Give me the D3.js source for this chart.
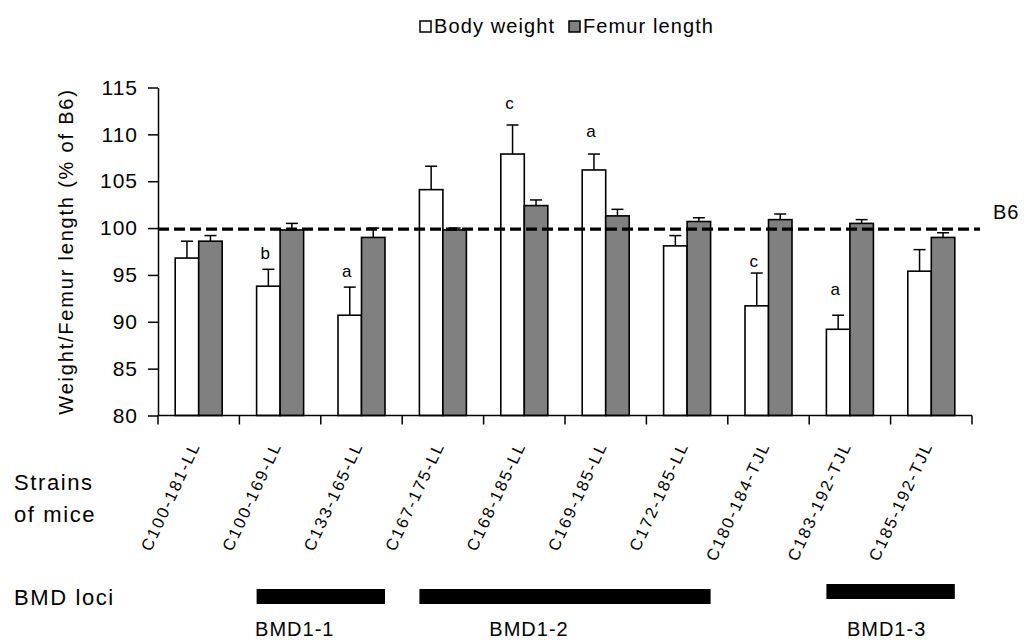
<!DOCTYPE html>
<html>
<head>
<meta charset="utf-8">
<script src="https://cdn.jsdelivr.net/npm/d3@7"></script>
<style>
  html, body { margin: 0; padding: 0; background: #fff; }
  svg { display: block; font-family: "Liberation Sans", Arial, sans-serif; }
</style>
</head>
<body>
<svg id="chart" width="1024" height="640"></svg>
<script>
// Congenic strains and their relative body weight / femur length (% of B6)
const strains = ["C100-181-LL", "C100-169-LL", "C133-165-LL", "C167-175-LL", "C168-185-LL",
                 "C169-185-LL", "C172-185-LL", "C180-184-TJL", "C183-192-TJL", "C185-192-TJL"];
const bodyWeight    = [96.8, 93.8, 90.7, 104.1, 107.9, 106.2, 98.1, 91.7, 89.2, 95.4];
const bodyWeightErr = [1.8, 1.8, 3.0, 2.5, 3.1, 1.7, 1.1, 3.5, 1.5, 2.3];
const femurLength    = [98.6, 99.8, 99.0, 99.8, 102.4, 101.3, 100.7, 100.9, 100.5, 99.0];
const femurLengthErr = [0.6, 0.7, 1.0, 0.2, 0.6, 0.7, 0.4, 0.6, 0.4, 0.5];
// significance letters over the body-weight bars, and the level they sit at
const sigLetters = ["", "b", "a", "", "c", "a", "", "c", "a", ""];
const sigLevel   = [null, 96.7, 94.8, null, 112.7, 109.7, null, 95.8, 92.9, null];
const yTicks = [80, 85, 90, 95, 100, 105, 110, 115];
const seriesNames = ["Body weight", "Femur length"];
const b6Level = 100;
// BMD loci and the strains each one covers
const lociNames = ["BMD1-1", "BMD1-2", "BMD1-3"];
const lociFrom  = ["C100-169-LL", "C167-175-LL", "C183-192-TJL"];
const lociTo    = ["C133-165-LL", "C172-185-LL", "C185-192-TJL"];

const svg = d3.select("#chart");
const plot = { left: 158, right: 972, top: 87.5, bottom: 415.5 };
const fills = ["#ffffff", "#808080"];

const x = d3.scaleBand().domain(strains).range([plot.left, plot.right]).padding(0);
const y = d3.scaleLinear().domain([80, 115]).range([plot.bottom, plot.top]);
const barW = 23.5;
const xs = d3.scaleBand().domain(seriesNames).range([-barW, barW]).padding(0);
const center = s => x(s) + x.bandwidth() / 2;

const rows = strains.map((s, i) => ({
  strain: s,
  vals: [
    { key: seriesNames[0], v: bodyWeight[i], e: bodyWeightErr[i], fill: fills[0] },
    { key: seriesNames[1], v: femurLength[i], e: femurLengthErr[i], fill: fills[1] }
  ]
}));

// bars with upper error bars
const g = svg.append("g");
const groups = g.selectAll("g.grp").data(rows).join("g").attr("class", "grp")
  .attr("transform", d => `translate(${center(d.strain)},0)`);

groups.selectAll("rect").data(d => d.vals).join("rect")
  .attr("x", d => xs(d.key))
  .attr("y", d => y(d.v))
  .attr("width", xs.bandwidth())
  .attr("height", d => y(80) - y(d.v))
  .attr("fill", d => d.fill)
  .attr("stroke", "#000")
  .attr("stroke-width", 1.6);

const err = groups.selectAll("g.err").data(d => d.vals).join("g").attr("class", "err")
  .attr("transform", d => `translate(${xs(d.key) + xs.bandwidth() / 2},0)`);
err.append("line").attr("x1", 0).attr("x2", 0)
  .attr("y1", d => y(d.v)).attr("y2", d => y(d.v + d.e))
  .attr("stroke", "#000").attr("stroke-width", 1.5);
err.append("line").attr("x1", -6).attr("x2", 6)
  .attr("y1", d => y(d.v + d.e)).attr("y2", d => y(d.v + d.e))
  .attr("stroke", "#000").attr("stroke-width", 1.5);

// significance letters
svg.append("g").selectAll("text")
  .data(strains.map((s, i) => ({ s, t: sigLetters[i], lv: sigLevel[i] })).filter(d => d.t))
  .join("text")
  .attr("x", d => center(d.s) + xs(seriesNames[0]) + xs.bandwidth() / 2 - 3)
  .attr("y", d => y(d.lv))
  .attr("text-anchor", "middle")
  .attr("font-size", 17)
  .attr("fill", "#000")
  .text(d => d.t);

// B6 reference line
svg.append("line")
  .attr("x1", plot.left).attr("x2", 980)
  .attr("y1", y(b6Level) + 1).attr("y2", y(b6Level) + 1)
  .attr("stroke", "#000").attr("stroke-width", 3.2)
  .attr("stroke-dasharray", "11,5");
svg.append("text")
  .attr("x", 993).attr("y", y(b6Level) - 9)
  .attr("font-size", 20).attr("letter-spacing", 1)
  .text("B6");

// y axis
const yAxis = svg.append("g")
  .attr("transform", `translate(${plot.left},0)`)
  .call(d3.axisLeft(y).tickValues(yTicks).tickSize(10).tickPadding(10).tickSizeOuter(0));
yAxis.select(".domain").attr("stroke", "#000").attr("stroke-width", 1.5);
yAxis.selectAll(".tick line").attr("stroke", "#000").attr("stroke-width", 1.5);
yAxis.selectAll(".tick text")
  .attr("font-size", 21).attr("letter-spacing", 1)
  .attr("font-family", "'Liberation Sans', Arial, sans-serif").attr("fill", "#000");

svg.append("text")
  .attr("transform", `translate(73,${(plot.top + plot.bottom) / 2}) rotate(-90)`)
  .attr("text-anchor", "middle")
  .attr("font-size", 20).attr("letter-spacing", 1.8)
  .text("Weight/Femur length (% of B6)");

// x axis: baseline with ticks between the strain groups
const xAxis = svg.append("g");
xAxis.append("line")
  .attr("x1", plot.left).attr("x2", plot.right)
  .attr("y1", y(80)).attr("y2", y(80))
  .attr("stroke", "#000").attr("stroke-width", 1.5);
xAxis.selectAll("line.tk").data(strains.map(s => x(s)).concat([plot.right])).join("line")
  .attr("class", "tk")
  .attr("x1", d => d).attr("x2", d => d)
  .attr("y1", y(80)).attr("y2", y(80) + 9)
  .attr("stroke", "#000").attr("stroke-width", 1.5);

xAxis.selectAll("text").data(strains).join("text")
  .attr("transform", d => `translate(${center(d) + 2},${445}) rotate(-65)`)
  .attr("text-anchor", "end")
  .attr("font-size", 16.5).attr("letter-spacing", 2)
  .text(d => d);

// row headings
svg.append("text").attr("x", 14).attr("y", 490)
  .attr("font-size", 22).attr("letter-spacing", 1.6).text("Strains");
svg.append("text").attr("x", 14).attr("y", 522)
  .attr("font-size", 22).attr("letter-spacing", 1.6).text("of mice");
svg.append("text").attr("x", 14).attr("y", 605)
  .attr("font-size", 22).attr("letter-spacing", 1.6).text("BMD loci");

// BMD loci bars
const lociDy = [0, 0, -5];
const lociLabelShift = [-26, -36, -4];
const loci = lociNames.map((n, i) => ({
  name: n,
  x0: center(lociFrom[i]) - barW,
  x1: center(lociTo[i]) + barW,
  dy: lociDy[i],
  shift: lociLabelShift[i]
}));
svg.append("g").selectAll("rect").data(loci).join("rect")
  .attr("x", d => d.x0).attr("y", d => 589 + d.dy)
  .attr("width", d => d.x1 - d.x0).attr("height", 15)
  .attr("fill", "#000");
svg.append("g").selectAll("text").data(loci).join("text")
  .attr("x", d => (d.x0 + d.x1) / 2 + d.shift).attr("y", 636)
  .attr("text-anchor", "middle")
  .attr("font-size", 20).attr("letter-spacing", 1)
  .text(d => d.name);

// legend
const legend = svg.append("g");
const legendX = [420, 569];
legend.selectAll("rect").data(seriesNames).join("rect")
  .attr("x", (d, i) => legendX[i]).attr("y", 21)
  .attr("width", 11).attr("height", 11)
  .attr("fill", (d, i) => fills[i])
  .attr("stroke", "#000").attr("stroke-width", 1.5);
legend.selectAll("text").data(seriesNames).join("text")
  .attr("x", (d, i) => legendX[i] + 14).attr("y", 33)
  .attr("font-size", 20).attr("letter-spacing", 1.1)
  .text(d => d);
</script>
</body>
</html>
